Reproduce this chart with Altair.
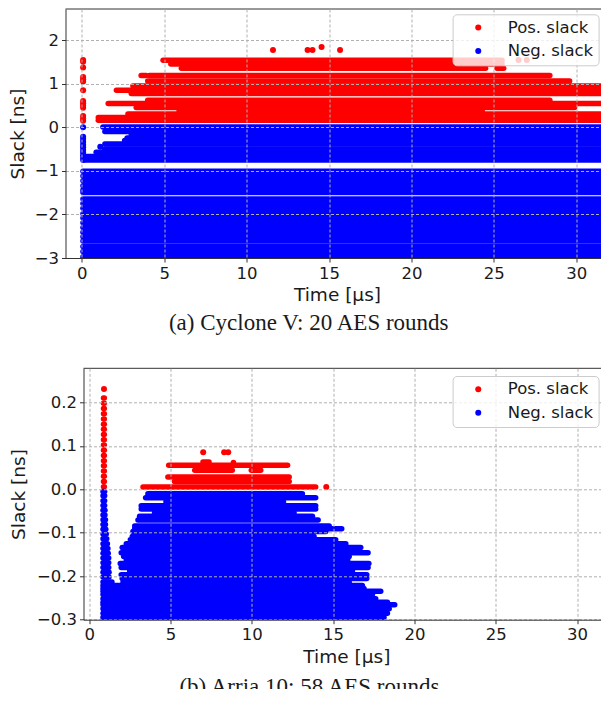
import altair as alt
import pandas as pd

POS = "Pos. slack"
NEG = "Neg. slack"

# ---------- Panel (a): Cyclone V ----------
a_pos_y  = [1.537, 1.452, 1.353, 1.353, 1.188, 1.188, 1.062, 0.947, 0.849, 0.775, 0.619, 0.546, 0.454, 0.374, 0.305, 0.225, 0.161]
a_pos_x0 = [4.93, 5.4, 6.04, 25.2, 3.6, 4.1, 4.0, 3.1, 2.1, 3.0, 4.0, 1.6, 3.3, 5.9, 2.8, 1.0, 1.0]
a_pos_x1 = [25.5, 25.5, 24.5, 25.6, 3.9, 28.4, 29.6, 32.5, 32.5, 32.5, 28.4, 32.5, 29.9, 24.3, 32.5, 32.5, 32.5]

a_neg_y  = [0.007, -0.096, -0.17, -0.245, -0.303, -0.383, -0.498, -0.573, -0.67, -0.75,
            -1.007, -1.12, -1.23, -1.34, -1.44, -1.495,
            -1.645, -1.75, -1.858, -1.985, -2.08, -2.19, -2.30, -2.41, -2.51, -2.608,
            -2.735, -2.85, -2.97, -3.02]
a_neg_x0 = [1.28, 1.4, 3.0, 2.75, 2.6, 1.4, 1.38, 0.87, 0.16, 0.16,
            0.07, 0.07, 0.07, 0.07, 0.07, 0.07,
            0.07, 0.07, 0.07, 0.07, 0.07, 0.07, 0.07, 0.07, 0.07, 0.07,
            0.07, 0.07, 0.07, 0.07]
a_neg_x1 = [32.5, 32.5, 31.4, 31.4, 31.4, 32.5, 32.5, 32.5, 32.5, 31.6,
            32.5, 32.5, 32.5, 32.5, 32.5, 32.5,
            32.5, 32.5, 32.5, 32.5, 32.5, 32.5, 32.5, 32.5, 32.5, 32.5,
            32.5, 32.5, 32.5, 32.5]

a_pos_px = [0.08, 0.08, 0.08, 0.08, 0.08, 0.08, 0.08, 0.08, 0.08, 0.08, 0.08, 0.08, 0.08, 0.08, 11.6, 13.7, 14.0, 14.55, 15.67, 26.5, 27.0]
a_pos_py = [1.54, 1.37, 1.15, 1.10, 1.05, 0.85, 0.60, 0.55, 0.50, 0.45, 0.26, 0.20, 0.15, 1.50, 1.77, 1.77, 1.77, 1.84, 1.77, 1.54, 1.54]
a_neg_px = [0.08, 0.08, 0.08, 0.08, 0.08, 0.08, 0.08, 0.08, 0.08, 0.08, 0.08, 1.12]
a_neg_py = [0.0, -0.22, -0.27, -0.33, -0.40, -0.46, -0.52, -0.58, -0.64, -0.70, -0.75, -0.445]

# ---------- Panel (b): Arria 10 ----------
b_pos_y  = [0.21, 0.198, 0.186, 0.174, 0.162, 0.15, 0.138, 0.126, 0.114, 0.102, 0.09, 0.078, 0.066, 0.054, 0.042, 0.03, 0.018, 0.006,
            0.0056, 0.018, 0.0284, 0.0438, 0.0438, 0.0553, 0.0629, 0.0615]
b_pos_x0 = [0.88, 0.88, 0.88, 0.88, 0.88, 0.88, 0.88, 0.88, 0.88, 0.88, 0.88, 0.88, 0.88, 0.88, 0.88, 0.88, 0.88, 0.88,
            3.31, 5.25, 4.84, 6.49, 9.97, 4.89, 7.0, 8.87]
b_pos_x1 = [0.93, 0.93, 0.93, 0.93, 0.93, 0.93, 0.93, 0.93, 0.93, 0.93, 0.93, 0.93, 0.93, 0.93, 0.93, 0.93, 0.93, 0.93,
            13.93, 12.3, 12.3, 8.8, 10.55, 12.2, 7.37, 8.87]

b_neg_y  = [-0.01, -0.0192, -0.0284, -0.0376, -0.0454, -0.0537, -0.0622, -0.0707, -0.0845, -0.0906, -0.0968, -0.1083,
            -0.1159, -0.1251, -0.1336, -0.1459, -0.1544, -0.162, -0.1705, -0.1797, -0.1882, -0.1966, -0.2051, -0.2136,
            -0.2212, -0.2281, -0.2343, -0.2419, -0.2519, -0.2597, -0.2657, -0.2749, -0.285, -0.2942, -0.302]
b_neg_x0 = [3.61, 3.47, 4.72, 3.2, 3.2, 4.02, 3.1, 3.0, 2.8, 2.8, 2.69, 2.65,
            2.53, 2.28, 2.03, 1.97, 2.12, 2.28, 1.91, 1.97, 2.49, 1.97, 2.03, 2.08,
            0.85, 0.85, 0.85, 0.85, 0.85, 0.85, 0.85, 0.85, 0.85, 0.85, 0.85]
b_neg_x1 = [13.11, 13.93, 11.95, 13.93, 13.93, 12.6, 13.73, 14.08, 14.76, 15.53, 14.55, 13.83,
            15.16, 15.78, 16.7, 17.15, 15.99, 15.9, 17.2, 17.15, 16.19, 17.07, 17.07, 15.99,
            16.8, 16.9, 17.93, 17.42, 17.62, 18.34, 18.79, 18.45, 18.34, 18.13, 18.0]

b_col_y  = [-0.005, -0.015, -0.026, -0.037, -0.048, -0.059, -0.07, -0.081, -0.092, -0.103, -0.114, -0.125,
            -0.136, -0.147, -0.158, -0.169, -0.18, -0.191, -0.202, -0.213]
b_col_x1 = [0.95, 0.95, 0.95, 0.95, 0.97, 0.97, 1.0, 1.0, 1.02, 1.05, 1.08, 1.12,
            1.15, 1.17, 1.2, 1.2, 1.2, 1.22, 1.22, 1.4]

b_pos_px = [0.91, 14.58, 7.01, 8.3, 8.55]
b_pos_py = [0.231, 0.0056, 0.0853, 0.0853, 0.0853]
b_neg_px = [1.38]
b_neg_py = [-0.225]

a_xticks = [0, 5, 10, 15, 20, 25, 30]
a_yticks = [-3, -2, -1, 0, 1, 2]
b_xticks = [0, 5, 10, 15, 20, 25, 30]
b_yticks = [-0.3, -0.2, -0.1, 0.0, 0.1, 0.2]

TEXT = "#1a1a1a"
SPINE = "#333333"
GRID = "#b0b0b0"
FONT = "DejaVu Sans"
SERIF = "Liberation Serif"


def rows(ys, x0s, x1s):
    return pd.DataFrame({"y": ys, "x0": x0s, "x1": x1s})


def dots(series, xs, ys):
    return pd.DataFrame({"series": series, "x": xs, "y": ys})


def panel(caption, pos_df, neg_df, dot_df, xdom, ydom, xticks, yticks, yfmt, w, h, lx, ly, ext, tpad, cap_off):
    color_scale = alt.Scale(domain=[POS, NEG], range=["#ff0000", "#0000ff"])
    xs = alt.Scale(domain=xdom, nice=False, zero=False)
    ys = alt.Scale(domain=ydom, nice=False, zero=False)
    x_axis = alt.Axis(values=xticks, format="d", title="Time [µs]", grid=True, gridColor=GRID,
                      gridDash=[3, 2], gridWidth=1, zindex=1, domainColor=SPINE, tickColor=SPINE,
                      tickSize=4, labelFont=FONT, labelFontSize=16.5, labelColor=TEXT, titleFont=FONT,
                      titleFontSize=18.5, titleFontWeight="normal", titleColor=TEXT, labelPadding=3,
                      titlePadding=4, labelFlush=False, labelOverlap=False)
    y_axis = alt.Axis(values=yticks, format=yfmt, title="Slack [ns]", grid=True, gridColor=GRID,
                      gridDash=[3, 2], gridWidth=1, zindex=1, domainColor=SPINE, tickColor=SPINE,
                      tickSize=4, labelFont=FONT, labelFontSize=16.5, labelColor=TEXT, titleFont=FONT,
                      titleFontSize=18.5, titleFontWeight="normal", titleColor=TEXT, labelPadding=3,
                      titlePadding=tpad, minExtent=ext, maxExtent=ext, labelOverlap=False)

    pos_rule = alt.Chart(pos_df).mark_rule(strokeWidth=5.5, strokeCap="round", clip=True, color="#ff0000").encode(
        x=alt.X("x0:Q", scale=xs, axis=x_axis), x2="x1:Q", y=alt.Y("y:Q", scale=ys, axis=y_axis))
    neg_rule = alt.Chart(neg_df).mark_rule(strokeWidth=5.5, strokeCap="round", clip=True, color="#0000ff").encode(
        x=alt.X("x0:Q", scale=xs), x2="x1:Q", y=alt.Y("y:Q", scale=ys))

    point = alt.Chart(dot_df).mark_point(filled=True, shape="circle", size=36, opacity=1, clip=True, strokeWidth=0).encode(
        x=alt.X("x:Q", scale=xs),
        y=alt.Y("y:Q", scale=ys),
        color=alt.Color("series:N", scale=color_scale, legend=alt.Legend(
            title=None, orient="none", legendX=lx, legendY=ly, fillColor="rgba(255,255,255,0.8)",
            strokeColor="#cccccc", cornerRadius=4, padding=5, symbolType="circle", symbolSize=36,
            symbolOffset=12.4, labelOffset=21.3, labelFont=FONT, labelFontSize=16.5, labelColor=TEXT,
            rowPadding=6.4, zindex=2, symbolStrokeWidth=0, labelLimit=200)),
    )
    spine = alt.Chart(pd.DataFrame({"t": [ydom[1]]})).mark_rule(color=SPINE, strokeWidth=1).encode(
        y=alt.Y("t:Q", scale=ys))
    return alt.layer(pos_rule, neg_rule, point, spine).properties(
        width=w, height=h,
        title=alt.TitleParams(caption, orient="bottom", font=SERIF, fontSize=23, fontWeight="normal",
                              color=TEXT, anchor="middle", frame="bounds", offset=cap_off),
    )


def spacer():
    return alt.Chart(pd.DataFrame({"v": [0]})).mark_point(opacity=0, size=1).encode(
        x=alt.value(0), y=alt.value(0)).properties(width=1, height=1)


a_pos = rows(a_pos_y, a_pos_x0, a_pos_x1)
a_neg = rows(a_neg_y, a_neg_x0, a_neg_x1)
a_dots = pd.concat([dots(POS, a_pos_px, a_pos_py), dots(NEG, a_neg_px, a_neg_py)], ignore_index=True)

b_col_x0 = [0.85] * len(b_col_y)
b_pos = rows(b_pos_y, b_pos_x0, b_pos_x1)
b_neg = pd.concat([rows(b_neg_y, b_neg_x0, b_neg_x1), rows(b_col_y, b_col_x0, b_col_x1)], ignore_index=True)
b_dots = pd.concat([dots(POS, b_pos_px, b_pos_py), dots(NEG, b_neg_px, b_neg_py)], ignore_index=True)

top = panel("(a) Cyclone V: 20 AES rounds", a_pos, a_neg, a_dots, [-0.99, 31.96], [-3, 2.713],
            a_xticks, a_yticks, "d", 543, 249, 445.1, 5.3, 32, 6, 8)
bottom = panel("(b) Arria 10: 58 AES rounds", b_pos, b_neg, b_dots, [-0.35, 31.98], [-0.3, 0.2785],
               b_xticks, b_yticks, ".1f", 525.7, 251.4, 445.1, 7.7, 50, 5.3, 10)

chart = alt.vconcat(
    alt.hconcat(spacer(), top, spacing=0),
    alt.hconcat(spacer(), bottom, spacing=0),
    spacing=32.3,
    padding={"left": -1.5, "top": 0, "right": -9.5, "bottom": -10},
).resolve_scale(color="independent", x="independent", y="independent").configure_view(stroke=None)
chart.save("out.html", embed_options={"renderer": "svg", "actions": False})
